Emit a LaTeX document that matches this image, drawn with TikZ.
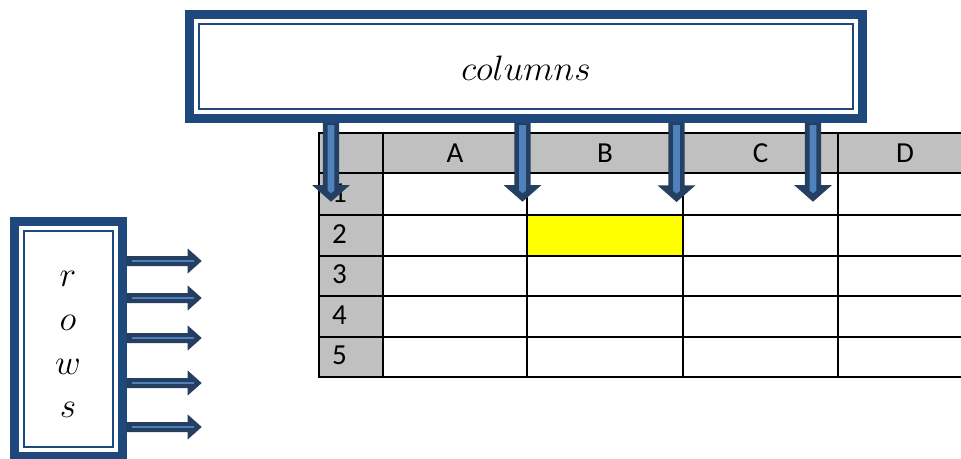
\documentclass[tikz,border=0pt]{standalone}
\usepackage{fontspec}
\newfontfamily\cellfont{Carlito}
\usetikzlibrary{calc}
\definecolor{frameblue}{HTML}{1F497D}
\definecolor{arrdark}{HTML}{243F60}
\definecolor{arrlight}{HTML}{4F81BD}
\definecolor{hdrgray}{HTML}{C0C0C0}
\definecolor{cellyellow}{HTML}{FFFF00}
\newcommand\doubleframe[1]{%
  \fill[white] ($(#1.north west)+(9.5,9.5)$) rectangle ($(#1.south east)+(-9.5,-9.5)$);
  \draw[frameblue, line width=2.6pt] ($(#1.north west)+(14.3,14.3)$) rectangle ($(#1.south east)+(-14.3,-14.3)$);}
\newcommand\colarrow[2]{%
  \fill[arrdark] ($(#1)+(-8.2,-0.5)$) -- ($(#2)+(-8.2,-16.7)$) -- ($(#2)+(-19,-16.7)$) -- (#2) --
    ($(#2)+(19,-16.7)$) -- ($(#2)+(8.2,-16.7)$) -- ($(#1)+(8.2,-0.5)$) -- cycle;
  \fill[arrlight] ($(#1)+(-3.3,2)$) -- ($(#2)+(-3.3,-11)$) -- ($(#2)+(0,-8.5)$) --
    ($(#2)+(3.3,-11)$) -- ($(#1)+(3.3,2)$) -- cycle;}
\newcommand\rowarrow[2]{%
  \fill[arrdark] ($(#1)+(-0.5,-5)$) -- ($(#2)+(-14,-5)$) -- ($(#2)+(-14,-12.5)$) -- (#2) --
    ($(#2)+(-14,12.5)$) -- ($(#2)+(-14,5)$) -- ($(#1)+(-0.5,5)$) -- cycle;
  \draw[arrlight, line width=1.2pt] ($(#1)+(4.5,0)$) -- ($(#2)+(-8,0)$);}
\begin{document}
\begin{tikzpicture}[x=1pt,y=-1pt,
  gridline/.style={line width=2pt, black, line cap=rect},
  celltext/.style={font=\fontsize{29}{34}\cellfont, anchor=base, inner sep=0},
  numtext/.style={font=\fontsize{29}{34}\cellfont, anchor=base west, inner sep=0},
  titletext/.style={font=\fontsize{25}{30}\selectfont, scale=1.42, anchor=base, inner sep=0},
  framebox/.style={fill=frameblue, inner sep=0, draw=none},
]
\clip (0,0) rectangle (961,458);
\fill[white] (0,0) rectangle (961,458);

% table
\fill[hdrgray] (319,133) rectangle (975,173);
\fill[hdrgray] (319,173) rectangle (383,377);
\fill[cellyellow] (527,215) rectangle (683,256);
\foreach \y in {133,173,215,256,296,337,377} \draw[gridline] (319,\y) -- (975,\y);
\foreach \x in {319,383,527,683,838} \draw[gridline] (\x,133) -- (\x,377);

\node[celltext] (hA) at (455,162) {A};
\node[celltext] (hB) at (605,162) {B};
\node[celltext] (hC) at (760.5,162) {C};
\node[celltext] (hD) at (905,162) {D};
\node[numtext] (n1) at (332,202) {1};
\node[numtext] (n2) at (332,243) {2};
\node[numtext] (n3) at (332,283.5) {3};
\node[numtext] (n4) at (332,324) {4};
\node[numtext] (n5) at (332,364.5) {5};

% boxes
\node[framebox, minimum width=682pt, minimum height=113pt] (cols) at (526,66.5) {};
\doubleframe{cols}
\node[framebox, minimum width=117pt, minimum height=244pt] (rows) at (68.5,339) {};
\doubleframe{rows}

\node[titletext] (coltext) at (526,80) {$columns$};
\node[titletext] (lr) at (68,286) {$r$};
\node[titletext] (lo) at (68,330) {$o$};
\node[titletext] (lw) at (68,374) {$w$};
\node[titletext] (ls) at (68,417) {$s$};

% column arrows
\coordinate (ca1) at (331,201.7);
\coordinate (ca2) at (522.5,201.7);
\coordinate (ca3) at (676.5,202);
\coordinate (ca4) at (813,201.7);
\foreach \c in {ca1,ca2,ca3,ca4} {\colarrow{cols.south -| \c}{\c}}

% row arrows
\coordinate (ra1) at (201.7,261);
\coordinate (ra2) at (201.7,298);
\coordinate (ra3) at (201.7,338);
\coordinate (ra4) at (201.7,383);
\coordinate (ra5) at (201.7,427);
\foreach \r in {ra1,ra2,ra3,ra4,ra5} {\rowarrow{rows.east |- \r}{\r}}
\end{tikzpicture}
\end{document}
